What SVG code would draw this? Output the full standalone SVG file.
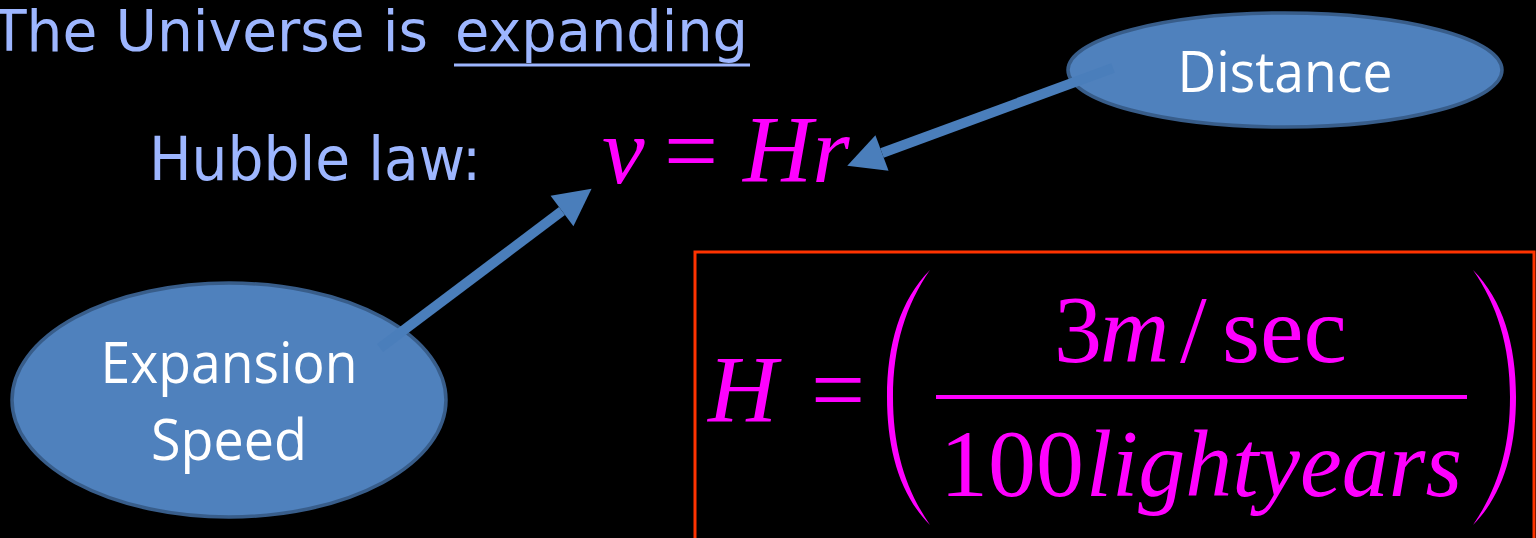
<svg xmlns="http://www.w3.org/2000/svg" width="1536" height="538" viewBox="0 0 1536 538">
<defs>
<style>
.title{font-family:"DejaVu Sans","Liberation Sans",sans-serif;fill:#9DB6FF;}
.node{fill:#4F81BD;stroke:#385D8A;stroke-width:3.5;}
.lbl{font-family:"Open Sans","Noto Sans","Liberation Sans",sans-serif;fill:#FFFFFF;font-size:56px;text-anchor:middle;}
.math{font-family:"Liberation Serif","Times New Roman",serif;fill:#FF00FF;font-size:96px;}
.it{font-style:italic;}
.conn{stroke:#4A7EBB;stroke-width:10;fill:none;marker-end:url(#head);}
</style>
<marker id="head" markerUnits="userSpaceOnUse" markerWidth="40" markerHeight="40" refX="0" refY="19" orient="auto" overflow="visible">
<path d="M0,0 L37,19 L0,38 Z" fill="#4A7EBB"/>
</marker>
</defs>
<rect x="0" y="0" width="1536" height="538" fill="#000000"/>

<g id="title">
<text class="title" x="-8" y="51" font-size="57" textLength="436" lengthAdjust="spacingAndGlyphs">The Universe is</text>
<text class="title" x="455" y="51" font-size="57" textLength="293" lengthAdjust="spacingAndGlyphs">expanding</text>
<line x1="454" y1="65" x2="750" y2="65" stroke="#9DB6FF" stroke-width="3"/>
</g>

<g id="hubble-label">
<text class="title" x="149" y="180" font-size="61" textLength="332" lengthAdjust="spacingAndGlyphs">Hubble law:</text>
</g>

<g id="hubble-law">
<text class="math it" x="602" y="183">v</text>
<text class="math" x="664" y="183">=</text>
<text class="math it" x="743" y="182">Hr</text>
</g>

<g id="distance">
<ellipse class="node" cx="1285" cy="70" rx="217" ry="57"/>
<text class="lbl" x="1285" y="92" textLength="215" lengthAdjust="spacingAndGlyphs">Distance</text>
</g>

<g id="expansion-speed">
<ellipse class="node" cx="229" cy="400" rx="217" ry="117"/>
<text class="lbl" x="229" y="383" textLength="257" lengthAdjust="spacingAndGlyphs">Expansion</text>
<text class="lbl" x="229" y="460" textLength="156" lengthAdjust="spacingAndGlyphs">Speed</text>
</g>

<g id="hubble-constant">
<rect x="695" y="252" width="839" height="300" fill="none" stroke="#FF3300" stroke-width="3"/>
<text class="math it" x="708" y="422">H</text>
<text class="math" x="811" y="422">=</text>
<path d="M930 270 C900 300 887 345 887 397 C887 450 900 495 930 525 C906 490 893 450 893 397 C893 345 906 305 930 270 Z" fill="#FF00FF"/>
<path d="M1473 270 C1503 300 1516 345 1516 397 C1516 450 1503 495 1473 525 C1497 490 1510 450 1510 397 C1510 345 1497 305 1473 270 Z" fill="#FF00FF"/>
<text class="math" x="1054" y="362">3</text>
<text class="math it" x="1100" y="362">m</text>
<text class="math" x="1180" y="362">/</text>
<text class="math" x="1222" y="362" textLength="125" lengthAdjust="spacingAndGlyphs">sec</text>
<rect x="936" y="395" width="531" height="4" fill="#FF00FF"/>
<text class="math" x="940" y="496">100</text>
<text class="math it" x="1086" y="496" textLength="376" lengthAdjust="spacingAndGlyphs">lightyears</text>
</g>

<g id="connectors">
<line class="conn" x1="380" y1="348" x2="562" y2="211"/>
<line class="conn" x1="1113" y1="68" x2="882" y2="153"/>
</g>
</svg>
